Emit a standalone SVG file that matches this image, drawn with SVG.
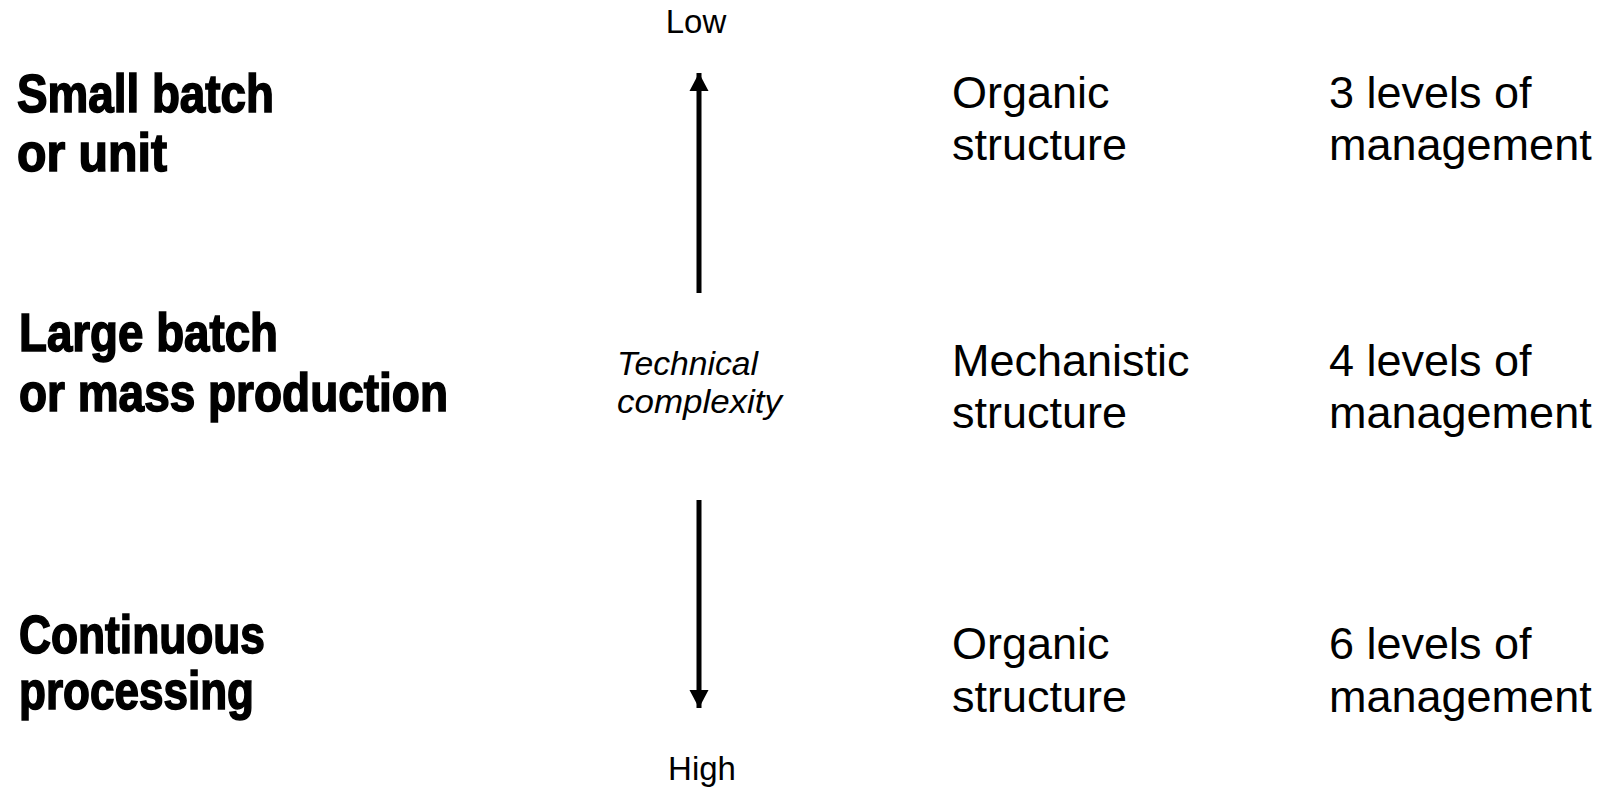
<svg xmlns="http://www.w3.org/2000/svg" width="1606" height="790" viewBox="0 0 1606 790">
<style>
.bold{font-family:"Liberation Sans",Arial,sans-serif;font-weight:bold;font-size:53px;fill:#000;stroke:#000;stroke-width:1.6px}
.reg{font-family:"Liberation Sans",Arial,sans-serif;font-size:45px;fill:#000}
.small{font-family:"Liberation Sans",Arial,sans-serif;font-size:33px;fill:#000}
.ital{font-family:"Liberation Sans",Arial,sans-serif;font-style:italic;font-size:34px;fill:#000}
.conn{stroke:#000;stroke-width:5;fill:none}
</style>
<defs>
<marker id="ah" markerUnits="userSpaceOnUse" markerWidth="20" markerHeight="20" viewBox="0 0 20 20" refX="18" refY="10" orient="auto">
<path d="M0,0.5 L18,10 L0,19.5 Z" fill="#000"/>
</marker>
</defs>
<rect width="1606" height="790" fill="#fff"/>
<g id="connectors">
<line class="conn" x1="699" y1="293" x2="699" y2="73" marker-end="url(#ah)"/>
<line class="conn" x1="699" y1="500" x2="699" y2="708" marker-end="url(#ah)"/>
</g>
<g id="low"><text class="small" x="696" y="33" text-anchor="middle">Low</text></g>
<g id="high"><text class="small" x="702" y="780" text-anchor="middle">High</text></g>
<g id="technical-complexity">
<text class="ital" x="617" y="375" textLength="141" lengthAdjust="spacingAndGlyphs">Technical</text>
<text class="ital" x="617" y="413" textLength="165" lengthAdjust="spacingAndGlyphs">complexity</text>
</g>
<g id="small-batch">
<text class="bold" x="17" y="112" textLength="257" lengthAdjust="spacingAndGlyphs">Small batch</text>
<text class="bold" x="17" y="171" textLength="150" lengthAdjust="spacingAndGlyphs">or unit</text>
</g>
<g id="large-batch">
<text class="bold" x="19" y="351" textLength="259" lengthAdjust="spacingAndGlyphs">Large batch</text>
<text class="bold" x="19" y="411" textLength="429" lengthAdjust="spacingAndGlyphs">or mass production</text>
</g>
<g id="continuous">
<text class="bold" x="19" y="653" textLength="246" lengthAdjust="spacingAndGlyphs">Continuous</text>
<text class="bold" x="19" y="709" textLength="235" lengthAdjust="spacingAndGlyphs">processing</text>
</g>
<g id="structure-1">
<text class="reg" x="952" y="108">Organic</text>
<text class="reg" x="952" y="160">structure</text>
</g>
<g id="structure-2">
<text class="reg" x="952" y="376">Mechanistic</text>
<text class="reg" x="952" y="428">structure</text>
</g>
<g id="structure-3">
<text class="reg" x="952" y="659">Organic</text>
<text class="reg" x="952" y="712">structure</text>
</g>
<g id="levels-1">
<text class="reg" x="1329" y="108">3 levels of</text>
<text class="reg" x="1329" y="160">management</text>
</g>
<g id="levels-2">
<text class="reg" x="1329" y="376">4 levels of</text>
<text class="reg" x="1329" y="428">management</text>
</g>
<g id="levels-3">
<text class="reg" x="1329" y="659">6 levels of</text>
<text class="reg" x="1329" y="712">management</text>
</g>
</svg>
